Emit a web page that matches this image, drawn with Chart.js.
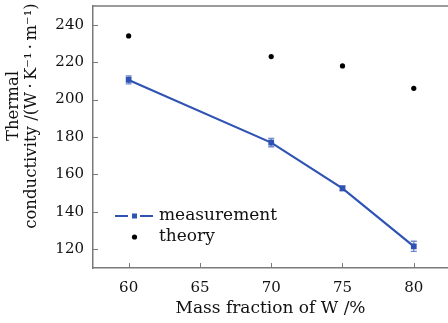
<!DOCTYPE html>
<html>
<head>
<meta charset="utf-8">
<script src="https://cdn.jsdelivr.net/npm/chart.js@4"></script>
<style>
  html, body { margin: 0; padding: 0; background: #fff; }
  #wrap { width: 448px; height: 323px; }
</style>
</head>
<body>
<div id="wrap"><canvas id="chart"></canvas></div>
<script>
// Data
const massFraction = [60, 70, 75, 80];
const measured = [210.5, 177, 152.6, 121.6];
const measuredErr = [2.1, 2.2, 1.3, 2.7];
const theory = [234, 223, 218, 206];
const xTicks = [60, 65, 70, 75, 80];
const yTicks = [120, 140, 160, 180, 200, 220, 240];
const seriesNames = ["measurement", "theory"];
const xTitle = "Mass fraction of W /%";
const yTitle = ["Thermal", "conductivity /(W\u2009·\u2009K⁻¹\u2009·\u2009m⁻¹)"];

const FONT = "'DejaVu Serif', serif";
const BLUE = "#2f53b3";
const ERR = "#7088cc";
const AXIS = "#7a7a7a";

// error bars, inward ticks, top frame, legend and y title
const decor = {
  id: "decor",
  beforeDatasetsDraw(chart) {
    const ctx = chart.ctx, x = chart.scales.x, y = chart.scales.y;
    ctx.save();
    ctx.strokeStyle = ERR;
    ctx.lineWidth = 1.3;
    massFraction.forEach((m, i) => {
      const px = x.getPixelForValue(m);
      const top = y.getPixelForValue(measured[i] + measuredErr[i]);
      const bot = y.getPixelForValue(measured[i] - measuredErr[i]);
      ctx.beginPath();
      ctx.moveTo(px, top); ctx.lineTo(px, bot);
      ctx.moveTo(px - 3, top); ctx.lineTo(px + 3, top);
      ctx.moveTo(px - 3, bot); ctx.lineTo(px + 3, bot);
      ctx.stroke();
    });
    ctx.restore();
  },
  afterDraw(chart) {
    const ctx = chart.ctx, a = chart.chartArea;
    const x = chart.scales.x, y = chart.scales.y;
    ctx.save();
    ctx.strokeStyle = AXIS;
    ctx.lineWidth = 1.5;
    ctx.beginPath();
    ctx.moveTo(a.left, a.top); ctx.lineTo(a.right, a.top);
    ctx.stroke();
    ctx.lineWidth = 1;
    ctx.beginPath();
    xTicks.forEach(t => {
      const px = Math.round(x.getPixelForValue(t)) + 0.5;
      ctx.moveTo(px, a.bottom); ctx.lineTo(px, a.bottom - 5);
    });
    yTicks.forEach(t => {
      const py = Math.round(y.getPixelForValue(t)) + 0.5;
      ctx.moveTo(a.left, py); ctx.lineTo(a.left + 5, py);
    });
    ctx.stroke();

    // legend
    ctx.font = "17px " + FONT;
    ctx.textBaseline = "middle";
    const ly1 = 216, ly2 = 237;
    ctx.strokeStyle = BLUE;
    ctx.lineWidth = 2.2;
    ctx.beginPath();
    ctx.moveTo(115, ly1); ctx.lineTo(128, ly1);
    ctx.moveTo(140, ly1); ctx.lineTo(153, ly1);
    ctx.stroke();
    ctx.fillStyle = BLUE;
    ctx.fillRect(132, ly1 - 2.5, 5, 5);
    ctx.fillStyle = "#000";
    ctx.beginPath();
    ctx.arc(134.5, ly2, 2.6, 0, Math.PI * 2);
    ctx.fill();
    ctx.fillStyle = "#111";
    ctx.fillText(seriesNames[0], 159, ly1);
    ctx.fillText(seriesNames[1], 159, ly2);

    // y axis title, two rotated lines
    ctx.font = "16.5px " + FONT;
    ctx.rotate(-Math.PI / 2);
    ctx.textAlign = "center";
    ctx.fillText(yTitle[0], -106, 14);
    ctx.fillText(yTitle[1], -116, 32);
    ctx.restore();
  }
};

new Chart(document.getElementById("chart"), {
  type: "scatter",
  data: {
    datasets: [
      {
        label: seriesNames[0],
        data: massFraction.map((m, i) => ({ x: m, y: measured[i] })),
        showLine: true,
        borderColor: BLUE,
        backgroundColor: BLUE,
        borderWidth: 2.2,
        pointStyle: "rect",
        pointRadius: 2.5,
        pointHoverRadius: 2.5
      },
      {
        label: seriesNames[1],
        data: massFraction.map((m, i) => ({ x: m, y: theory[i] })),
        borderColor: "#000",
        backgroundColor: "#000",
        pointRadius: 2.6,
        pointBorderWidth: 0
      }
    ]
  },
  options: {
    responsive: true,
    maintainAspectRatio: false,
    animation: false,
    layout: { autoPadding: false, padding: { top: 6, right: 0, left: 0, bottom: 0 } },
    plugins: { legend: { display: false }, tooltip: { enabled: false } },
    scales: {
      x: {
        type: "linear",
        min: 57.5,
        max: 82.4,
        afterBuildTicks: s => { s.ticks = xTicks.map(v => ({ value: v })); },
        afterFit: s => { s.height = 55; s.paddingLeft = 0; s.paddingRight = 0; },
        grid: { display: false, drawTicks: false },
        border: { color: AXIS, width: 1.5 },
        ticks: { color: "#111", font: { family: FONT, size: 15 }, padding: 11 },
        title: { display: true, text: xTitle, color: "#111", font: { family: FONT, size: 17 }, padding: { top: 0 } }
      },
      y: {
        min: 110,
        max: 250,
        afterBuildTicks: s => { s.ticks = yTicks.map(v => ({ value: v })); },
        afterFit: s => { s.width = 93; s.paddingTop = 0; s.paddingBottom = 0; },
        grid: { display: false, drawTicks: false },
        border: { color: AXIS, width: 1.5 },
        ticks: { color: "#111", font: { family: FONT, size: 15 }, padding: 9 }
      }
    }
  },
  plugins: [decor]
});
</script>
</body>
</html>
